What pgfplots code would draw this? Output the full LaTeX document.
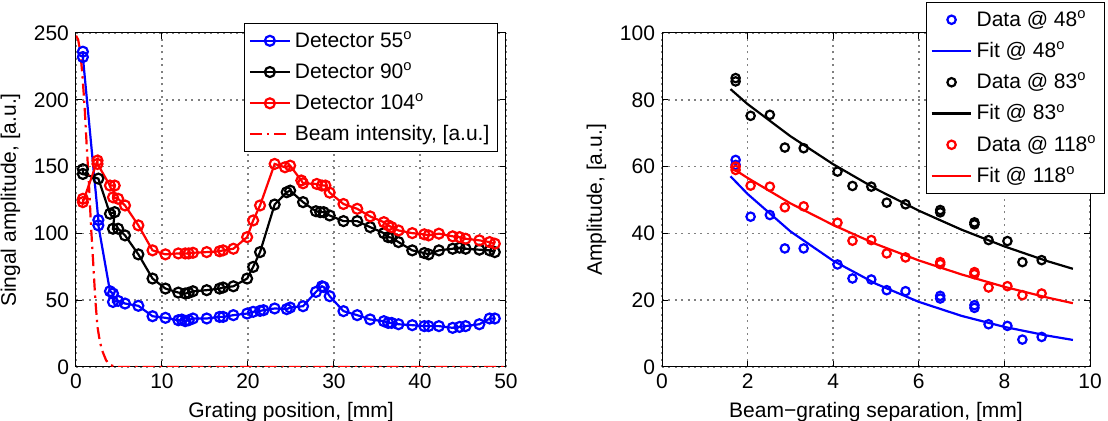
\documentclass[border=0pt]{standalone}
\usepackage{fontspec}
\setmainfont{Liberation Sans}
\usepackage{pgfplots}
\pgfplotsset{compat=1.18}
\pgfplotsset{
 every axis/.append style={
  scale only axis,
  font=\fontsize{10.5}{12.6}\selectfont,
  tick label style={font=\fontsize{10.5}{12.6}\selectfont},
  /pgf/number format/assume math mode=true,
  grid=major, grid style={black!50, line width=0.75pt, dash pattern=on 1pt off 2.2pt},
  tick style={black, line width=0.5pt}, major tick length=3pt,
  axis line style={line width=0.5pt},
  legend cell align=left,
  legend style={font=\fontsize{10.5}{12.6}\selectfont, draw=black, row sep=2.2pt, inner sep=2pt},
 },
 lineleg/.style={legend image code/.code={\draw[mark repeat=2, mark phase=2, ##1] plot coordinates {(0cm,0cm) (0.35cm,0cm) (0.7cm,0cm)};}},
 markleg/.style={legend image code/.code={\draw[##1] plot coordinates {(0.35cm,0cm)};}},
 lmark/.style={mark=o, mark size=2.5pt, line width=1.1pt, mark options={solid, line width=1.1pt}},
 rmark/.style={only marks, mark=o, mark size=2.1pt, mark options={solid, line width=1.1pt}, markleg},
}
\begin{document}
\begin{tikzpicture}
\begin{axis}[at={(0,0)}, anchor=south west, width=215pt, height=167pt,
  xmin=0, xmax=50, ymin=0, ymax=250,
  xtick={0,10,...,50}, ytick={0,50,...,250},
  xlabel={Grating position, [mm]}, ylabel={Singal amplitude, [a.u.]},
  legend style={at={(0.981,1.03)}, anchor=north east}, lineleg]
\addplot[blue, lmark] coordinates {
(0.8,236) (0.8,232) (2.6,110) (2.6,106) (3.95,56.7) (4.3,55) (4.3,48.7) (4.9,49.5) (5.7,47.5) (7.25,45.8)
(8.9,38) (10.4,36.8) (11.9,35) (12.3,35.5) (12.7,34.3) (13.1,35) (13.6,36.3) (15.2,36.3) (16.7,37.5) (17.1,37.5)
(18.3,38.8) (19.9,40) (20.6,41.3) (21.4,42) (21.8,42.5) (23.1,43.8) (24.5,43.3) (24.9,44.5) (26.4,45.5) (27.9,56.2)
(28.6,60.4) (28.8,59.9) (29.5,53) (31.1,41.8) (32.7,38.8) (34.2,35.6) (35.8,34.3) (36.3,33) (36.7,33) (37.5,32)
(39.1,31.3) (40.5,30.6) (41,30.6) (42.2,30.6) (43.8,29.3) (44.6,30) (45.3,30.6) (46.9,32) (48.1,36.3) (48.7,36.3)};
\addlegendentry{Detector 55\textsuperscript{o}}
\addplot[black, lmark] coordinates {
(0.8,148) (0.8,144.5) (2.6,141) (3.95,114.7) (4.5,115.9) (4.3,103.5) (4.9,103.5) (5.7,98.5) (7.25,84.3) (8.9,66.2)
(10.4,58.7) (11.9,55.7) (12.7,55) (13.1,55.5) (13.6,56.7) (15.2,57.5) (16.7,58.7) (17.1,59.5) (18.3,60.4) (19.9,66.2)
(20.6,74.9) (21.4,86) (23.1,121.6) (24.5,130.8) (24.9,132) (26.4,123.4) (27.9,116.6) (28.4,115.9) (28.8,115.9) (29.5,113.4)
(31.1,109.2) (32.7,109.2) (34.2,104.7) (35.8,100.2) (36.3,97.2) (36.7,96.8) (37.5,93.5) (39.1,87.3) (40.5,85.3) (41,84.3)
(42.2,87.3) (43.8,88.5) (44.6,89.3) (45.3,88.5) (46.9,87.8) (48.1,87.3) (48.7,86)};
\addlegendentry{Detector 90\textsuperscript{o}}
\addplot[red, lmark] coordinates {
(0.8,125.9) (0.8,123.4) (2.5,154.5) (2.5,152) (3.95,135.8) (4.5,135.8) (4.3,127) (4.9,125.9) (5.7,120.9) (7.25,106)
(8.9,87.3) (10.4,84.3) (11.9,85) (12.7,85) (13.1,85) (13.6,85.5) (15.2,86) (16.7,86.6) (17.1,87.3) (18.3,88.5)
(19.9,97.2) (20.6,109.7) (21.4,120.9) (23.1,152) (24.3,149.5) (24.9,150.7) (26.2,139.6) (26.4,137.5) (28,137) (28.6,135.8)
(29,135.8) (29.5,130.5) (31.1,122) (32.7,118.4) (34.2,112.7) (35.8,108.4) (36.3,106) (36.7,104.7) (37.5,102.2) (39.1,100.2)
(40.5,99.3) (41,98.5) (42.2,99.8) (43.8,97.8) (44.6,97.2) (45.3,96) (46.9,94.8) (48.1,93.5) (48.7,92.3)};
\addlegendentry{Detector 104\textsuperscript{o}}
\addplot[red, line width=1.1pt, dash pattern=on 6pt off 2.5pt on 1.2pt off 2.5pt] coordinates {
(0,248) (0.25,245) (0.5,236) (0.75,218) (1.0,195) (1.25,165) (1.5,138) (1.75,105) (2.0,78) (2.25,50)
(2.5,30) (2.75,20) (3.0,13) (3.5,5) (4.0,1.5) (4.5,0.3) (5,0) (50,0)};
\addlegendentry{Beam intensity, [a.u.]}
\end{axis}

\begin{axis}[at={(293pt,0)}, anchor=south west, width=214pt, height=167pt,
  xmin=0, xmax=10, ymin=0, ymax=100,
  xtick={0,2,...,10}, ytick={0,20,...,100},
  xlabel={Beam−grating separation, [mm]}, ylabel={Amplitude, [a.u.]},
  legend style={at={(1.035,1.093)}, anchor=north east}, lineleg]
\addplot[blue, rmark] coordinates {
(1.72,62) (1.72,60.5) (2.07,45) (2.52,45.5) (2.87,35.5) (3.31,35.5) (4.1,30.7) (4.45,26.5) (4.89,26.2) (5.25,23)
(5.69,22.7) (6.5,20.5) (6.5,21.3) (7.3,17.7) (7.3,18.5) (7.63,12.8) (8.07,12.3) (8.42,8.2) (8.87,9)};
\addlegendentry{Data @ 48\textsuperscript{o}}
\addplot[blue, line width=1.1pt] coordinates {
(1.6,57.1) (2,51.8) (3,40.6) (4,31.8) (5,24.9) (6,19.5) (7,15.3) (8,12.0) (9,9.4) (9.6,8.1)};
\addlegendentry{Fit @ 48\textsuperscript{o}}
\addplot[black, rmark] coordinates {
(1.72,86.5) (1.72,85.5) (2.07,75.2) (2.52,75.5) (2.87,65.7) (3.31,65.5) (4.1,58.5) (4.45,54.2) (4.89,54) (5.25,49.2)
(5.69,48.7) (6.5,46.3) (6.5,47) (7.3,42.7) (7.3,43.3) (7.63,38) (8.07,37.7) (8.42,31.4) (8.87,32)};
\addlegendentry{Data @ 83\textsuperscript{o}}
\addplot[black, line width=1.1pt] coordinates {
(1.6,83.2) (2,78.7) (3,69.1) (4,60.7) (5,53.3) (6,46.8) (7,41.1) (8,36.1) (9,31.7) (9.6,29.4)};
\addlegendentry{Fit @ 83\textsuperscript{o}}
\addplot[red, rmark] coordinates {
(1.72,60) (1.72,59) (2.07,54.3) (2.52,54) (2.87,47.8) (3.31,48.1) (4.1,43.2) (4.45,37.8) (4.89,38) (5.25,34)
(5.69,32.8) (6.5,30.8) (6.5,31.4) (7.3,27.8) (7.3,28.4) (7.63,23.8) (8.07,24.2) (8.42,21.5) (8.87,22)};
\addlegendentry{Data @ 118\textsuperscript{o}}
\addplot[red, line width=1.1pt] coordinates {
(1.6,59.9) (2,56.6) (3,49.0) (4,42.5) (5,36.8) (6,31.9) (7,27.7) (8,24.0) (9,20.8) (9.6,19.1)};
\addlegendentry{Fit @ 118\textsuperscript{o}}
\end{axis}
\pgfresetboundingbox
\path[use as bounding box] (-38pt,-27pt) rectangle (516pt,183.5pt);
\end{tikzpicture}
\end{document}
